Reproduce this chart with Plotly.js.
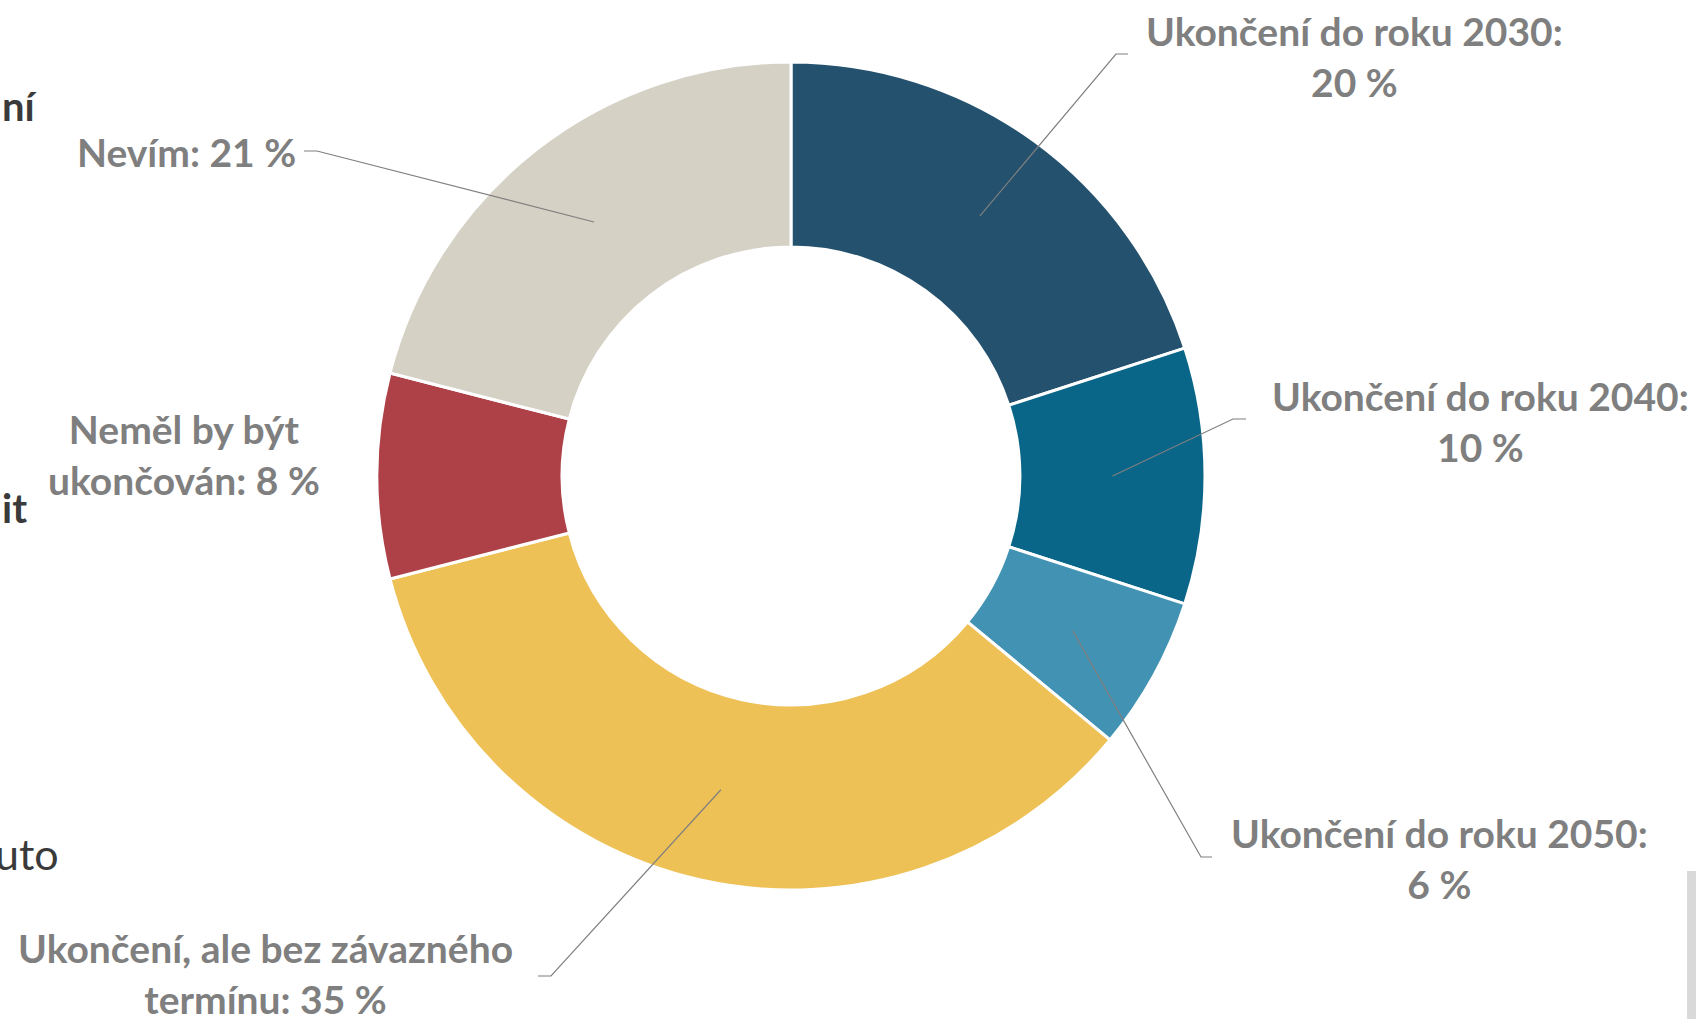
<!DOCTYPE html>
<html>
<head>
<meta charset="utf-8">
<script src="https://cdn.plot.ly/plotly-3.0.1.min.js"></script>
<style>
  html, body { margin: 0; padding: 0; background: #ffffff; }
  #chart { width: 1696px; height: 1019px; }
</style>
</head>
<body>
<div id="chart"></div>
<script>
// ---- DATA ----
const categories = [
  'Ukončení do roku 2030',
  'Ukončení do roku 2040',
  'Ukončení do roku 2050',
  'Ukončení, ale bez závazného termínu',
  'Neměl by být ukončován',
  'Nevím'
];
const values = [20, 10, 6, 35, 8, 21];
// label text as printed next to the ring (line breaks as in the original)
const labelPrefixes = [
  'Ukončení do roku 2030:<br>',
  'Ukončení do roku 2040:<br>',
  'Ukončení do roku 2050:<br>',
  'Ukončení, ale bez závazného<br>termínu: ',
  'Neměl by být<br>ukončován: ',
  'Nevím: '
];
const sideFragments = ['ní', 'it', 'uto'];

// ---- STYLE / LAYOUT ----
const colors = ['#24526E', '#0A6688', '#4292B3', '#EEC157', '#AE4148', '#D5D1C5'];
const W = 1696, H = 1019;
const pieCx = 791, pieCy = 476, pieR = 414, hole = 0.553;
const labelFont = { family: 'Lato, "Open Sans", sans-serif', size: 39, color: '#7F7F7F', weight: 700 };
// label centres (pixels)
const labelPos = [[1354, 56], [1480, 421], [1439, 858], [265, 973], [184, 454], [186, 152]];
// leader-line elbows and ends (pixels); null = no leader
const leaderElbow = [[1116, 54], [1233, 419], [1201, 857], [551, 976], null, [317, 151]];
const leaderEnd = [[1128, 54], [1246, 419], [1212, 857], [538, 976], null, [304, 151]];
// [x, y, weight, size, colour, xshift]
const fragPos = [[0, 106, 700, 40, '#3A3A3A', 0], [0, 508, 700, 40, '#3A3A3A', 0], [0, 853, 400, 43, '#3A3A3A', -7]];

const total = values.reduce((a, b) => a + b, 0);
const rMid = pieR * (1 + hole) / 2;

const traces = [{
  type: 'pie',
  labels: categories,
  values: values,
  sort: false,
  direction: 'clockwise',
  rotation: 0,
  hole: hole,
  textinfo: 'none',
  hoverinfo: 'label+value',
  showlegend: false,
  marker: { colors: colors, line: { color: '#ffffff', width: 3 } },
  domain: {
    x: [(pieCx - pieR) / W, (pieCx + pieR) / W],
    y: [(H - pieCy - pieR) / H, (H - pieCy + pieR) / H]
  }
}, {
  // invisible helper trace so the pixel-unit cartesian axes exist
  type: 'scatter', mode: 'markers', x: [0, W], y: [0, H],
  marker: { opacity: 0 }, hoverinfo: 'skip', showlegend: false
}];

// leader lines: start at slice mid-angle on the ring's mid radius, drawn above the ring
const shapes = [];
let cum = 0;
values.forEach((v, i) => {
  const mid = (cum + v / 2) / total * 2 * Math.PI;
  cum += v;
  if (!leaderElbow[i]) return;
  const sx = pieCx + rMid * Math.sin(mid);
  const sy = pieCy - rMid * Math.cos(mid);
  shapes.push({
    type: 'path', xref: 'x', yref: 'y', layer: 'above',
    path: `M ${sx} ${sy} L ${leaderElbow[i][0]} ${leaderElbow[i][1]} L ${leaderEnd[i][0]} ${leaderEnd[i][1]}`,
    line: { color: '#7F7F7F', width: 1.2 }
  });
});
shapes.push({
  type: 'rect', xref: 'x', yref: 'y', x0: 1687, x1: 1696, y0: 871, y1: 1019,
  fillcolor: '#D9D9D9', line: { width: 0 }, layer: 'below'
});

const annotations = categories.map((c, i) => ({
  x: labelPos[i][0], y: labelPos[i][1], xref: 'x', yref: 'y',
  text: labelPrefixes[i] + values[i] + ' %',
  showarrow: false, xanchor: 'center', yanchor: 'middle', align: 'center',
  font: labelFont
}));
sideFragments.forEach((t, i) => {
  annotations.push({
    x: fragPos[i][0], y: fragPos[i][1], xref: 'x', yref: 'y', xshift: fragPos[i][5],
    text: t, showarrow: false, xanchor: 'left', yanchor: 'middle',
    font: { family: 'Lato, "Open Sans", sans-serif', size: fragPos[i][3], color: fragPos[i][4], weight: fragPos[i][2] }
  });
});

const layout = {
  width: W, height: H,
  margin: { l: 0, r: 0, t: 0, b: 0 },
  paper_bgcolor: '#ffffff', plot_bgcolor: 'rgba(0,0,0,0)',
  xaxis: { range: [0, W], visible: false, fixedrange: true, domain: [0, 1] },
  yaxis: { range: [H, 0], visible: false, fixedrange: true, domain: [0, 1] },
  annotations: annotations,
  shapes: shapes,
  showlegend: false
};

Plotly.newPlot('chart', traces, layout, { displayModeBar: false, staticPlot: true });
</script>
</body>
</html>
